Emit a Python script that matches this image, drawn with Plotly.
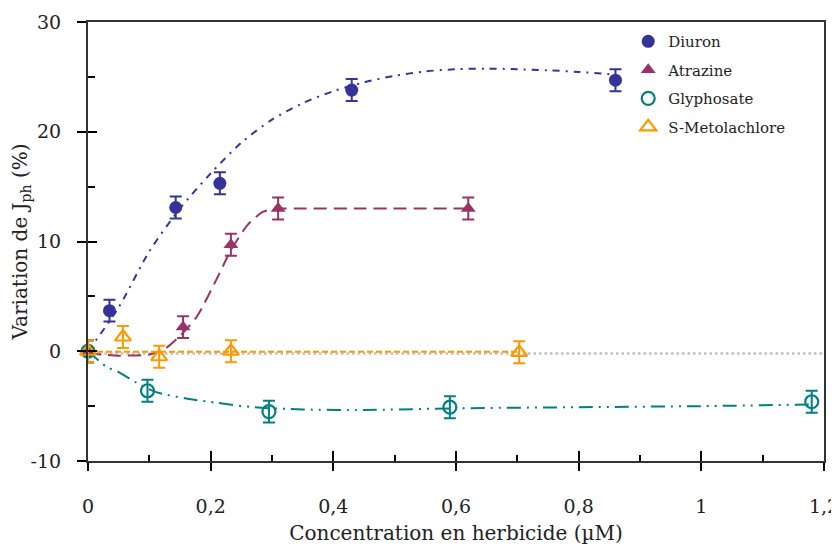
import plotly.graph_objects as go

# ---------------- data ----------------
diuron_x = [0, 0.035, 0.143, 0.215, 0.43, 0.86]
diuron_y = [0, 3.7, 13.1, 15.3, 23.8, 24.7]
diuron_err = [1.0, 1.0, 1.0, 1.0, 1.0, 1.0]

atrazine_x = [0, 0.155, 0.233, 0.31, 0.62]
atrazine_y = [0, 2.2, 9.7, 13.0, 13.0]
atrazine_err = [1.0, 1.0, 1.0, 1.0, 1.0]

glypho_x = [0, 0.097, 0.295, 0.59, 1.18]
glypho_y = [0, -3.6, -5.5, -5.1, -4.6]
glypho_err = [1.0, 1.0, 1.0, 1.0, 1.0]

meto_x = [0, 0.057, 0.116, 0.233, 0.703]
meto_y = [0, 1.3, -0.5, 0.0, -0.1]
meto_err = [1.0, 1.0, 1.0, 1.0, 1.0]

# fitted curves
diuron_fit_x = [0, 0.05, 0.1, 0.15, 0.2, 0.25, 0.3, 0.35, 0.4, 0.45, 0.5, 0.55, 0.6, 0.65, 0.7, 0.75, 0.8, 0.86]
diuron_fit_y = [0, 4.0, 9.1, 13.0, 16.2, 19.0, 21.1, 22.6, 23.7, 24.5, 25.1, 25.5, 25.7, 25.75, 25.7, 25.6, 25.45, 25.2]

atrazine_fit_x = [0, 0.05, 0.1, 0.125, 0.15, 0.178, 0.21, 0.233, 0.26, 0.285, 0.31, 0.35, 0.45, 0.62]
atrazine_fit_y = [-0.2, -0.4, -0.3, 0.2, 1.4, 3.2, 6.6, 9.2, 11.5, 12.7, 13.0, 13.0, 13.0, 13.0]

glypho_fit_x = [0, 0.03, 0.05, 0.08, 0.11, 0.16, 0.21, 0.27, 0.35, 0.45, 0.6, 0.8, 1.0, 1.18]
glypho_fit_y = [0, -1.4, -1.9, -2.9, -3.7, -4.3, -4.7, -5.1, -5.3, -5.35, -5.2, -5.1, -5.0, -4.85]

meto_fit_x = [0, 0.703]
meto_fit_y = [-0.05, -0.05]

baseline_x = [0, 1.2]
baseline_y = [-0.2, -0.2]

x_tickvals = [0, 0.2, 0.4, 0.6, 0.8, 1.0, 1.2]
x_ticktext = ["0", "0,2", "0,4", "0,6", "0,8", "1", "1,2"]
x_minor = [0.1, 0.3, 0.5, 0.7, 0.9, 1.1]
y_tickvals = [-10, 0, 10, 20, 30]
y_ticktext = ["-10", "0", "10", "20", "30"]
y_minor = [-5, 5, 15, 25]

NAVY = "#333399"
MAROON = "#993366"
TEAL = "#008080"
ORANGE = "#FF9900"
GRAY = "#BFBFBF"
FONT = "DejaVu Serif"
TXT = "#222222"

fig = go.Figure()

# lines
fig.add_trace(go.Scatter(x=baseline_x, y=baseline_y, mode="lines",
                         line=dict(color=GRAY, width=2.5, dash="2.5px,3px"),
                         showlegend=False, hoverinfo="skip"))
fig.add_trace(go.Scatter(x=diuron_fit_x, y=diuron_fit_y, mode="lines",
                         line=dict(color=NAVY, width=2, dash="7px,6px,2px,6px", shape="spline", smoothing=0.8),
                         showlegend=False, hoverinfo="skip"))
fig.add_trace(go.Scatter(x=atrazine_fit_x, y=atrazine_fit_y, mode="lines",
                         line=dict(color=MAROON, width=2, dash="13px,7px", shape="spline", smoothing=0.6),
                         showlegend=False, hoverinfo="skip"))
fig.add_trace(go.Scatter(x=glypho_fit_x, y=glypho_fit_y, mode="lines",
                         line=dict(color=TEAL, width=2, dash="14px,6px,2px,6px,2px,6px", shape="spline", smoothing=0.8),
                         showlegend=False, hoverinfo="skip"))
fig.add_trace(go.Scatter(x=meto_fit_x, y=meto_fit_y, mode="lines",
                         line=dict(color=ORANGE, width=2, dash="6px,3px"),
                         showlegend=False, hoverinfo="skip"))

def err(vals, color):
    return dict(type="data", array=vals, visible=True, color=color, thickness=2, width=6)

fig.add_trace(go.Scatter(x=diuron_x, y=diuron_y, mode="markers", name="Diuron", legendgroup="a",
                         marker=dict(symbol="circle", size=13, color=NAVY),
                         error_y=err(diuron_err, NAVY), cliponaxis=False))
fig.add_trace(go.Scatter(x=atrazine_x, y=atrazine_y, mode="markers", name="Atrazine", legendgroup="b",
                         marker=dict(symbol="triangle-up", size=13, color=MAROON),
                         error_y=err(atrazine_err, MAROON), cliponaxis=False))
fig.add_trace(go.Scatter(x=glypho_x, y=glypho_y, mode="markers", name="Glyphosate", legendgroup="c",
                         marker=dict(symbol="circle-open", size=13, color=TEAL, line=dict(width=2.2, color=TEAL)),
                         error_y=err(glypho_err, TEAL), cliponaxis=False))
fig.add_trace(go.Scatter(x=meto_x, y=meto_y, mode="markers", name="S-Metolachlore", legendgroup="d",
                         marker=dict(symbol="triangle-up-open", size=14, color=ORANGE, line=dict(width=2.2, color=ORANGE)),
                         error_y=err(meto_err, ORANGE), cliponaxis=False))

# dummy trace for the overlay axes (inner half of major ticks + frame)
fig.add_trace(go.Scatter(x=[None], y=[None], xaxis="x2", yaxis="y2", showlegend=False, hoverinfo="skip"))

# the page body adds an 8px margin: figure is sized to fit the 839x545 window
fig.update_layout(
    width=831, height=537,
    margin=dict(l=80, r=15, t=14, b=84, autoexpand=False),
    paper_bgcolor="white", plot_bgcolor="white",
    font=dict(family=FONT, color=TXT, size=19),
    showlegend=True,
    legend=dict(x=0.734, y=0.993, xanchor="left", yanchor="top",
                font=dict(family=FONT, size=15, color=TXT),
                bgcolor="rgba(0,0,0,0)", traceorder="grouped", tracegroupgap=6,
                itemwidth=30),
    xaxis=dict(range=[0, 1.2], tickmode="array", tickvals=x_tickvals, ticktext=x_ticktext,
               ticks="outside", ticklen=8, tickwidth=2, tickcolor="black",
               showline=True, linewidth=2, linecolor="black",
               showgrid=False, zeroline=False, automargin=False,
               ticklabelstandoff=19, ticklabeloverflow="allow",
               tickfont=dict(family=FONT, size=19, color=TXT),
               minor=dict(tickmode="array", tickvals=x_minor, ticks="inside", ticklen=6, tickwidth=1.5, tickcolor="black"),
               title=dict(text="Concentration en herbicide (µM)", font=dict(family=FONT, size=20, color=TXT), standoff=10)),
    yaxis=dict(range=[-10, 30], tickmode="array", tickvals=y_tickvals, ticktext=y_ticktext,
               ticks="outside", ticklen=9, tickwidth=2, tickcolor="black",
               showline=True, linewidth=2, linecolor="black",
               showgrid=False, zeroline=False, automargin=False,
               ticklabelstandoff=12,
               tickfont=dict(family=FONT, size=19, color=TXT),
               minor=dict(tickmode="array", tickvals=y_minor, ticks="inside", ticklen=7, tickwidth=1.5, tickcolor="black"),
               title=dict(text="Variation de J<sub>ph</sub> (%)", font=dict(family=FONT, size=20, color=TXT), standoff=2)),
    xaxis2=dict(overlaying="x", anchor="y2", side="bottom", range=[0, 1.2], automargin=False,
                tickmode="array", tickvals=x_tickvals, ticks="inside", ticklen=10, tickwidth=2, tickcolor="black",
                showticklabels=False, showline=True, linewidth=1.5, linecolor="#333333", mirror=True,
                showgrid=False, zeroline=False),
    yaxis2=dict(overlaying="y", anchor="x2", side="left", range=[-10, 30], automargin=False,
                tickmode="array", tickvals=y_tickvals, ticks="inside", ticklen=9, tickwidth=2, tickcolor="black",
                showticklabels=False, showline=True, linewidth=1.5, linecolor="#333333", mirror=True,
                showgrid=False, zeroline=False),
)

fig.write_html("out.html")
